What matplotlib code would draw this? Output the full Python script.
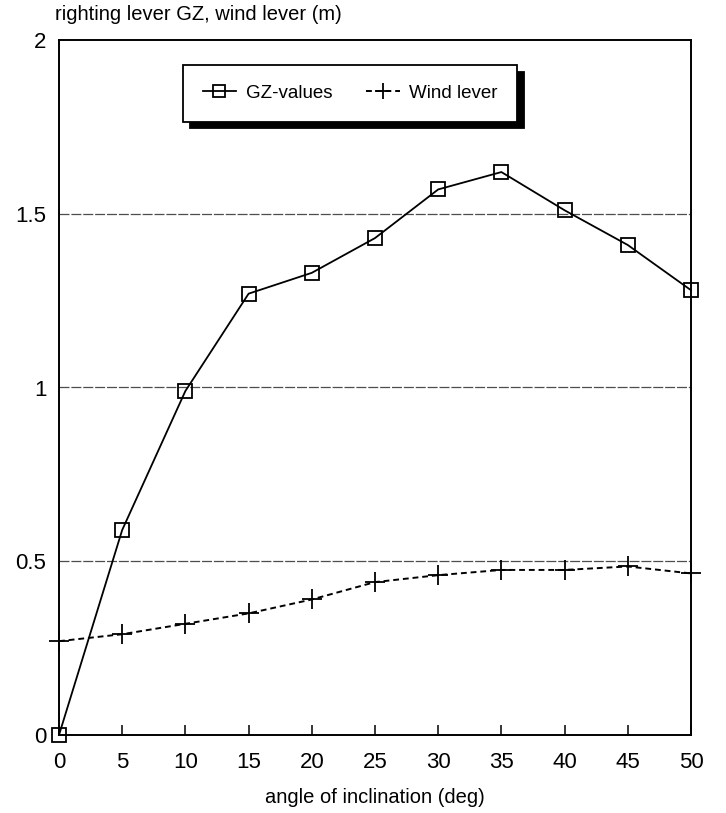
import matplotlib
matplotlib.use("Agg")
import matplotlib.pyplot as plt
from matplotlib.ticker import FixedLocator, FixedFormatter

plt.rcParams['font.family'] = ['Liberation Sans', 'DejaVu Sans']

angles = [0, 5, 10, 15, 20, 25, 30, 35, 40, 45, 50]
gz_values = [0.0, 0.59, 0.99, 1.27, 1.33, 1.43, 1.57, 1.62, 1.51, 1.41, 1.28]
wind_lever = [0.27, 0.29, 0.32, 0.35, 0.39, 0.44, 0.46, 0.475, 0.475, 0.485, 0.465]
y_ticks = [0, 0.5, 1, 1.5, 2]
y_tick_labels = ["0", "0.5", "1", "1.5", "2"]
x_ticks = [0, 5, 10, 15, 20, 25, 30, 35, 40, 45, 50]

fig = plt.figure(figsize=(7.26, 8.13), dpi=100)
ax = fig.add_axes([59/726, 1-735/813, 632/726, 695/813])

for yg in [0.5, 1.0, 1.5]:
    ax.axhline(yg, color='0.3', lw=0.9, linestyle=(0, (8, 1.5)), zorder=1)

ax.plot(angles, gz_values, color='black', lw=1.3, marker='s', markersize=10,
        markerfacecolor='none', markeredgecolor='black', markeredgewidth=1.3,
        label='GZ-values', zorder=3, clip_on=False)
ax.plot(angles, wind_lever, color='black', lw=1.4, linestyle=(0, (3, 2)),
        marker='+', markersize=14, markeredgewidth=1.3,
        label='Wind lever', zorder=3, clip_on=False)

ax.set_xlim(0, 50)
ax.set_ylim(0, 2)
ax.xaxis.set_major_locator(FixedLocator(x_ticks))
ax.yaxis.set_major_locator(FixedLocator(y_ticks))
ax.yaxis.set_major_formatter(FixedFormatter(y_tick_labels))
ax.tick_params(axis='x', direction='in', length=7, width=1.1, labelsize=16, pad=12)
ax.tick_params(axis='y', length=0, labelsize=16, pad=9)
for s in ax.spines.values():
    s.set_linewidth(1.4)

ax.set_xlabel('angle of inclination (deg)', fontsize=14.5, labelpad=11)
fig.text(55/726, 1-15/813, 'righting lever GZ, wind lever (m)', fontsize=14.5,
         ha='left', va='center')

leg = ax.legend(loc='upper left', bbox_to_anchor=(0.196, 0.964), ncol=2,
                frameon=True, fancybox=False, edgecolor='black', framealpha=1,
                shadow={'color': 'black', 'ox': 5, 'oy': -5, 'alpha': 1},
                fontsize=13.5, handlelength=1.8, columnspacing=1.8,
                borderpad=1.05, borderaxespad=0, handletextpad=0.5)
leg.get_frame().set_linewidth(1.3)
for h in leg.legend_handles:
    h.set_markersize(h.get_markersize() * 0.85)

fig.savefig('out.png', dpi=100)
